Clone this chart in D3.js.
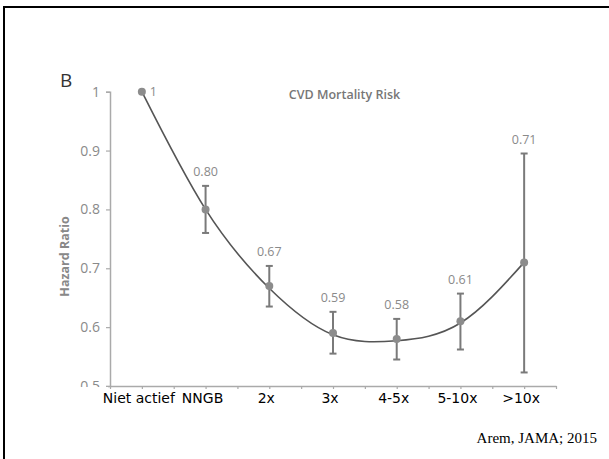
<!DOCTYPE html>
<html>
<head>
<meta charset="utf-8">
<script src="https://cdn.jsdelivr.net/npm/d3@7"></script>
<style>
  body { margin: 0; background: #fff; }
  svg { display: block; }
</style>
</head>
<body>
<figure id="chart" style="margin:0"></figure>
<script>
// data
const categories = ["Niet actief", "NNGB", "2x", "3x", "4-5x", "5-10x", ">10x"];
const hazard = [1, 0.80, 0.67, 0.59, 0.58, 0.61, 0.71];
const valueLabels = ["1", "0.80", "0.67", "0.59", "0.58", "0.61", "0.71"];
const ciLow = [null, 0.76, 0.635, 0.555, 0.545, 0.562, 0.523];
const ciHigh = [null, 0.84, 0.704, 0.626, 0.614, 0.657, 0.895];
const fitCurve = [1, 0.80, 0.666, 0.587, 0.577, 0.607, 0.71];
const yTicks = [0.5, 0.6, 0.7, 0.8, 0.9, 1];
const yTickLabels = ["0.5", "0.6", "0.7", "0.8", "0.9", "1"];

const width = 609;
const height = 459;
const plotLeft = 110, plotRight = 556, plotTop = 91.7, plotBottom = 386;

const svg = d3.select("#chart")
  .append("svg")
  .attr("width", width)
  .attr("height", height);

// frame (top and left only, rest is cropped)
svg.append("line").attr("x1", 3).attr("x2", width).attr("y1", 7).attr("y2", 7)
  .attr("stroke", "#000").attr("stroke-width", 2);
svg.append("line").attr("x1", 4).attr("x2", 4).attr("y1", 6).attr("y2", height)
  .attr("stroke", "#000").attr("stroke-width", 2);

const x = d3.scaleBand()
  .domain(categories)
  .range([plotLeft, plotRight])
  .padding(0);

const y = d3.scaleLinear()
  .domain([0.5, 1])
  .range([plotBottom, plotTop]);

const cx = d => x(d) + x.bandwidth() / 2;

// Y axis
const yAxis = svg.append("g")
  .attr("transform", "translate(" + plotLeft + ",0)")
  .call(d3.axisLeft(y).tickValues(yTicks).tickFormat((d, i) => yTickLabels[i]).tickSize(4).tickPadding(6));
yAxis.select(".domain").attr("stroke", "#aaa").attr("stroke-width", 1.5);
yAxis.selectAll(".tick line").attr("stroke", "#aaa").attr("stroke-width", 1.2);
yAxis.selectAll("text")
  .style("font-family", "'Open Sans', sans-serif")
  .style("font-size", "14px")
  .attr("fill", "#8a8a8a");

// the category strip covers the lower half of the 0.5 label
svg.append("rect")
  .attr("x", 60).attr("y", plotBottom + 1)
  .attr("width", 48).attr("height", 20)
  .attr("fill", "#fff");

// X axis with ticks at band edges and centres
const xTicks = [];
categories.forEach(c => { xTicks.push(x(c)); xTicks.push(cx(c)); });
xTicks.push(plotRight);
const xLin = d3.scaleLinear().domain([plotLeft, plotRight]).range([plotLeft, plotRight]);
const xAxis = svg.append("g")
  .attr("transform", "translate(0," + plotBottom + ")")
  .call(d3.axisBottom(xLin).tickValues(xTicks).tickFormat("").tickSize(3).tickSizeOuter(0));
xAxis.select(".domain").attr("stroke", "#aaa").attr("stroke-width", 1.5);
xAxis.selectAll(".tick line").attr("stroke", "#aaa").attr("stroke-width", 1.2);

svg.append("g")
  .selectAll("text")
  .data(categories)
  .enter()
  .append("text")
  .attr("x", d => cx(d) - 3)
  .attr("y", 403)
  .attr("text-anchor", "middle")
  .style("font-family", "'DejaVu Sans', Verdana, sans-serif")
  .style("font-size", "14px")
  .attr("fill", "#000")
  .text(d => d);

// fitted curve
const line = d3.line()
  .x((d, i) => cx(categories[i]))
  .y(d => y(d))
  .curve(d3.curveNatural);
svg.append("path")
  .datum(fitCurve)
  .attr("d", line)
  .attr("fill", "none")
  .attr("stroke", "#555")
  .attr("stroke-width", 1.6);

// error bars
const bars = categories.map((c, i) => ({ c: c, lo: ciLow[i], hi: ciHigh[i] })).filter(d => d.lo !== null);
const eb = svg.append("g").attr("stroke", "#7a7a7a").attr("stroke-width", 2);
eb.selectAll(".stem").data(bars).enter().append("line")
  .attr("x1", d => cx(d.c)).attr("x2", d => cx(d.c))
  .attr("y1", d => y(d.lo)).attr("y2", d => y(d.hi));
eb.selectAll(".capt").data(bars).enter().append("line")
  .attr("x1", d => cx(d.c) - 3.5).attr("x2", d => cx(d.c) + 3.5)
  .attr("y1", d => y(d.hi)).attr("y2", d => y(d.hi));
eb.selectAll(".capb").data(bars).enter().append("line")
  .attr("x1", d => cx(d.c) - 3.5).attr("x2", d => cx(d.c) + 3.5)
  .attr("y1", d => y(d.lo)).attr("y2", d => y(d.lo));

// points
svg.selectAll(".pt")
  .data(hazard)
  .enter()
  .append("circle")
  .attr("class", "pt")
  .attr("cx", (d, i) => cx(categories[i]))
  .attr("cy", d => y(d))
  .attr("r", 4)
  .attr("fill", "#8c8c8c");

// value labels
svg.selectAll(".vl")
  .data(hazard)
  .enter()
  .append("text")
  .attr("class", "vl")
  .attr("x", (d, i) => i === 0 ? cx(categories[i]) + 8 : cx(categories[i]))
  .attr("y", (d, i) => i === 0 ? y(d) + 4 : y(ciHigh[i]) - 10)
  .attr("text-anchor", (d, i) => i === 0 ? "start" : "middle")
  .style("font-family", "'Open Sans', sans-serif")
  .style("font-size", "12.5px")
  .attr("fill", "#8a8a8a")
  .text((d, i) => valueLabels[i]);

// titles
svg.append("text")
  .attr("x", 344.5).attr("y", 98.5)
  .attr("text-anchor", "middle")
  .style("font-family", "'Open Sans', sans-serif")
  .style("font-size", "12.5px")
  .style("font-weight", 600)
  .attr("fill", "#777")
  .text("CVD Mortality Risk");

svg.append("text")
  .attr("transform", "translate(69,256.5)rotate(-90)")
  .attr("text-anchor", "middle")
  .style("font-family", "'Open Sans', sans-serif")
  .style("font-size", "12.5px")
  .style("font-weight", 700)
  .attr("fill", "#888")
  .text("Hazard Ratio");

svg.append("text")
  .attr("x", 60).attr("y", 86.5)
  .style("font-family", "'Open Sans', sans-serif")
  .style("font-size", "19px")
  .attr("fill", "#333")
  .text("B");

svg.append("text")
  .attr("x", 597).attr("y", 443)
  .attr("text-anchor", "end")
  .style("font-family", "'Liberation Serif', 'Times New Roman', serif")
  .style("font-size", "15px")
  .attr("fill", "#000")
  .text("Arem, JAMA; 2015");
</script>
</body>
</html>
